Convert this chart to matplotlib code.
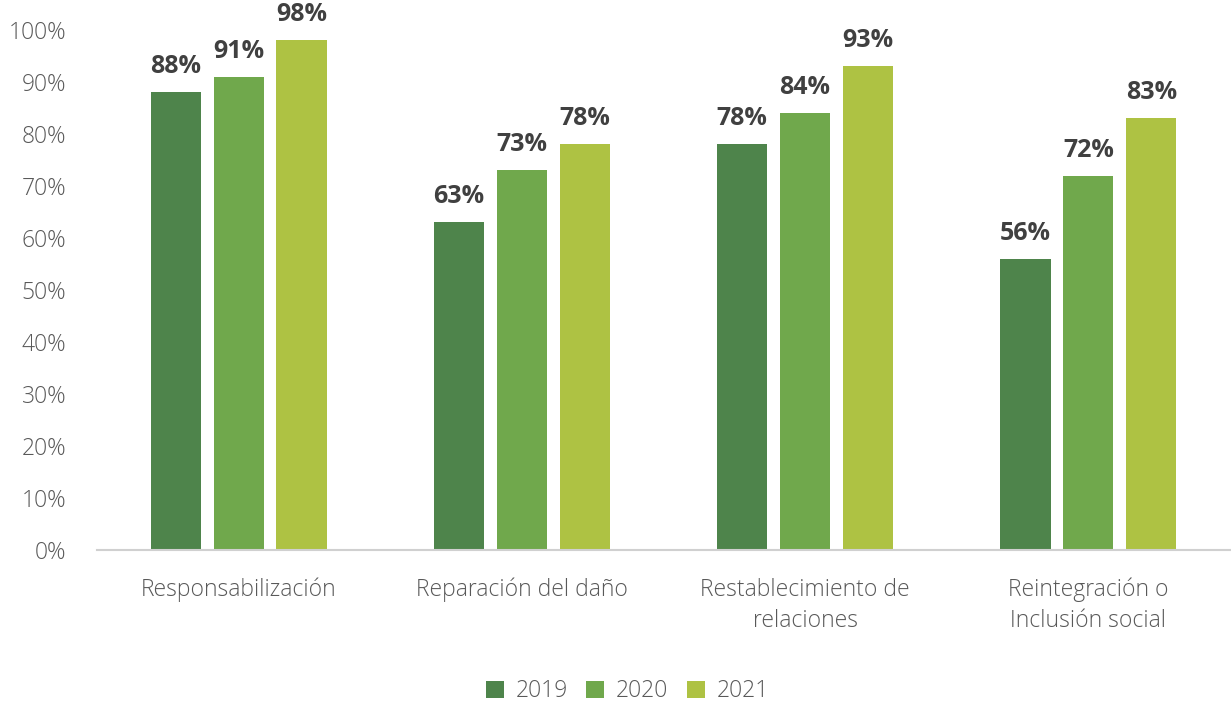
import matplotlib.pyplot as plt
import numpy as np

categorias = ['Responsabilización', 'Reparación del daño',
              'Restablecimiento de\nrelaciones', 'Reintegración o\nInclusión social']
anios = ['2019', '2020', '2021']
valores_2019 = [0.88, 0.63, 0.78, 0.56]
valores_2020 = [0.91, 0.73, 0.84, 0.72]
valores_2021 = [0.98, 0.78, 0.93, 0.83]
colores = ['#4e844b', '#70a84c', '#aec243']

plt.rcParams['font.family'] = ['Open Sans', 'DejaVu Sans']

fig = plt.figure(figsize=(12.31, 7.06), dpi=100)
ax = fig.add_axes([97 / 1231, 1 - 550 / 706, 1133 / 1231, 520 / 706])

x = np.arange(len(categorias))
ancho = 0.177
paso = 0.222
series = [valores_2019, valores_2020, valores_2021]

for i, (serie, color, anio) in enumerate(zip(series, colores, anios)):
    pos = x + (i - 1) * paso
    barras = ax.bar(pos, serie, ancho, color=color, label=anio, zorder=2)
    for b, v in zip(barras, serie):
        ax.text(b.get_x() + b.get_width() / 2, v + 0.025, f'{v * 100:.0f}%',
                ha='center', va='bottom', fontsize=18, fontweight='bold',
                color='#404040', clip_on=False)

ax.set_xlim(-0.5, len(categorias) - 0.5)
ax.set_ylim(0, 1.0)
ax.set_yticks(np.arange(0, 1.01, 0.1))
ax.set_yticklabels([f'{int(round(t * 100))}%' for t in np.arange(0, 1.01, 0.1)])
ax.set_xticks(x)
ax.set_xticklabels(categorias, linespacing=1.4)

for s in ['top', 'right', 'left']:
    ax.spines[s].set_visible(False)
ax.spines['bottom'].set_color('#d0d0d0')
ax.spines['bottom'].set_linewidth(1.5)
ax.tick_params(axis='both', length=0, labelsize=16.5, labelcolor='#595959')
ax.tick_params(axis='x', pad=20)
ax.tick_params(axis='y', pad=22)
for lbl in ax.get_yticklabels() + ax.get_xticklabels():
    lbl.set_fontweight('light')

leg = ax.legend(loc='center', bbox_to_anchor=(0.468, -0.272),
                ncol=3, frameon=False, fontsize=16.5, handlelength=0.8, handleheight=0.8,
                columnspacing=0.8, handletextpad=0.5, labelcolor='#595959')
for t in leg.get_texts():
    t.set_fontweight('light')

fig.savefig('out.png', dpi=100)
